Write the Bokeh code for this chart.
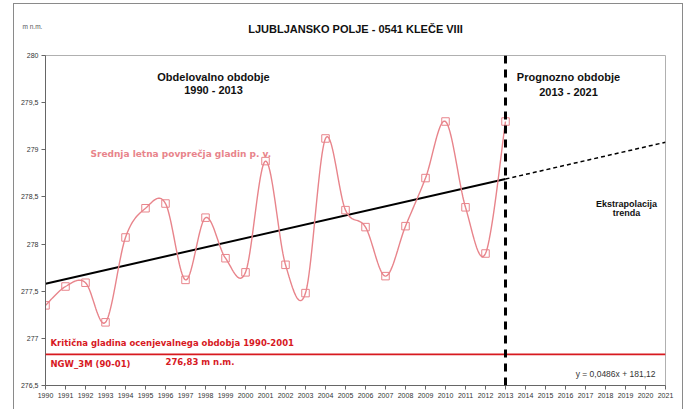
import numpy as np
from bokeh.plotting import figure
from bokeh.models import Span, Label, FixedTicker, Title
from bokeh.embed import file_html
from bokeh.resources import INLINE

# ---- data ----
years = list(range(1990, 2014))
levels = [277.35, 277.55, 277.59, 277.17, 278.07, 278.38, 278.43, 277.62,
          278.28, 277.85, 277.70, 278.88, 277.78, 277.48, 279.12, 278.36,
          278.18, 277.66, 278.19, 278.70, 279.30, 278.39, 277.90, 279.30]
trend_years = [1990, 2013]
trend_vals = [277.58, 278.69]
extrap_years = [2013, 2021]
extrap_vals = [278.69, 279.08]
critical_level = 276.83
forecast_start = 2013
y_ticks = [276.5, 277, 277.5, 278, 278.5, 279, 279.5, 280]
y_tick_labels = ["276,5", "277", "277,5", "278", "278,5", "279", "279,5", "280"]
x_ticks = list(range(1990, 2022))

PINK = "#E8848B"
RED = "#D7191F"
ARIAL = "Liberation Sans"
VERD = "DejaVu Sans"

# Excel-like smoothed line (Catmull-Rom through the data points)
def catmull(xs, ys, n=24):
    P = np.column_stack([xs, ys]).astype(float)
    P = np.vstack([P[0], P, P[-1]])
    out = []
    t = np.linspace(0, 1, n)[:, None]
    for i in range(1, len(P) - 2):
        p0, p1, p2, p3 = P[i - 1], P[i], P[i + 1], P[i + 2]
        seg = 0.5 * (2 * p1 + (-p0 + p2) * t + (2 * p0 - 5 * p1 + 4 * p2 - p3) * t ** 2
                     + (-p0 + 3 * p1 - 3 * p2 + p3) * t ** 3)
        out.append(seg if i == 1 else seg[1:])
    S = np.vstack(out)
    return S[:, 0], S[:, 1]

sx, sy = catmull(years, levels)

p = figure(width=686, height=409, x_range=(1990, 2021), y_range=(276.5, 280),
           output_backend="svg", toolbar_location=None,
           min_border_left=45, min_border_right=21, min_border_top=55, min_border_bottom=24)
p.border_fill_alpha = 0
g = "linear-gradient(#8a8a8a,#8a8a8a)"
p.styles = {"background": f"{g} 13px 3px / 1px 100% no-repeat, "
                          f"{g} 682px 3px / 1px 100% no-repeat, "
                          f"{g} 13px 3px / 670px 1px no-repeat, white"}

# outer row: unit label
p.title.text = "m n.m."
p.title.align = "left"
p.title.offset = -23
p.title.standoff = -56
p.title.vertical_align = "bottom"
p.title.text_font = ARIAL
p.title.text_font_size = "6.5px"
p.title.text_font_style = "normal"
p.title.text_color = "#555555"

# inner row: main title
p.add_layout(Title(text="LJUBLJANSKO POLJE - 0541 KLEČE VIII", align="center", offset=19,
                   standoff=40, vertical_align="middle", text_font=ARIAL,
                   text_font_size="11px", text_font_style="bold", text_color="#111111"),
             "above")

p.xgrid.visible = False
p.ygrid.visible = False
p.outline_line_color = "#b0b0b0"
p.outline_line_width = 1

for ax in (p.xaxis, p.yaxis):
    ax.axis_line_color = "#666666"
    ax.major_tick_line_color = "#666666"
    ax.minor_tick_line_color = None
    ax.major_tick_in = 0
    ax.major_tick_out = 4
    ax.major_label_text_font = ARIAL
    ax.major_label_text_font_size = "7px"
    ax.major_label_text_color = "#333333"
    ax.major_label_standoff = 3

p.yaxis.ticker = FixedTicker(ticks=y_ticks)
p.yaxis.major_label_overrides = {t: l for t, l in zip(y_ticks, y_tick_labels)}
p.xaxis.ticker = FixedTicker(ticks=x_ticks)

# critical level
p.add_layout(Span(location=critical_level, dimension="width", line_color=RED, line_width=1.8))

# trend and extrapolation
p.line(trend_years, trend_vals, line_color="black", line_width=2)
p.line(extrap_years, extrap_vals, line_color="black", line_width=1.5, line_dash="4 3")

# smoothed series
p.line(sx, sy, line_color=PINK, line_width=1.4)
p.scatter(years, levels, marker="square", size=7.5, fill_color=None,
          line_color=PINK, line_width=1)

# forecast boundary
p.add_layout(Span(location=forecast_start, dimension="height", line_color="black",
                  line_width=3, line_dash="8 6"))

def lab(x, y, text, size, color="#111111", font=ARIAL, style="bold", align="left"):
    p.add_layout(Label(x=x, y=y, text=text, text_font_size=size, text_color=color,
                       text_font=font, text_font_style=style, text_align=align,
                       text_baseline="middle"))

lab(1998.4, 279.777, "Obdelovalno obdobje", "11px", align="center")
lab(1998.4, 279.629, "1990 - 2013", "11px", align="center")
lab(2016.15, 279.767, "Prognozno obdobje", "11px", align="center")
lab(2016.15, 279.608, "2013 - 2021", "11px", align="center")
lab(1992.25, 278.96, "Srednja letna povprečja gladin p. v.", "9px", PINK, font=VERD)
lab(2019.05, 278.42, "Ekstrapolacija", "9px", align="center")
lab(2019.05, 278.325, "trenda", "9px", align="center")
lab(1990.25, 276.946, "Kritična gladina ocenjevalnega obdobja 1990-2001", "8.5px", RED, font=VERD)
lab(1990.25, 276.733, "NGW_3M (90-01)", "8.5px", RED, font=VERD)
lab(1996.0, 276.744, "276,83 m n.m.", "8.5px", RED, font=VERD)
lab(2020.5, 276.617, "y = 0,0486x + 181,12", "8.5px", "#333333", style="normal", align="right")

open("out.html", "w").write(file_html(p, INLINE))
